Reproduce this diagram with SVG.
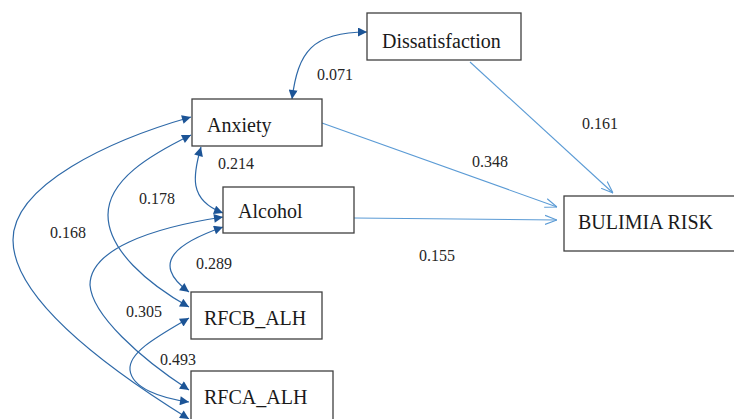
<svg xmlns="http://www.w3.org/2000/svg" width="734" height="419" viewBox="0 0 734 419">
<style>
.box{fill:#ffffff;stroke:#404040;stroke-width:1.3}
.nt{font-family:'Liberation Serif','DejaVu Serif','Noto Serif',serif;font-size:20px;fill:#1a1a1a}
.lb{font-family:'Liberation Serif','DejaVu Serif','Noto Serif',serif;font-size:16px;fill:#262626}
.cv{fill:none;stroke:#2e69a8;stroke-width:1.2;marker-start:url(#ah);marker-end:url(#ah)}
.st{fill:none;stroke:#5b9bd5;stroke-width:1.1;marker-end:url(#oh)}
</style>
<defs>
<marker id="ah" viewBox="0 0 10 10" refX="10" refY="5" markerWidth="11" markerHeight="9" markerUnits="userSpaceOnUse" orient="auto-start-reverse">
<path d="M0,0 L10,5 L0,10 z" fill="#1c5496"/>
</marker>
<marker id="oh" viewBox="0 0 12 12" refX="12" refY="6" markerWidth="12" markerHeight="12" markerUnits="userSpaceOnUse" orient="auto">
<path d="M0,1.5 L12,6 L0,10.5" fill="none" stroke="#5b9bd5" stroke-width="1.1"/>
</marker>
</defs>
<rect width="734" height="419" fill="#ffffff"/>
<g id="connectors">
<path class="st" d="M470,62 L613,193"/>
<path class="st" d="M322,123 L557,207"/>
<path class="st" d="M354,218 L557,220"/>
<path class="cv" d="M292,99 C298,52 312,32 367,32"/>
<path class="cv" d="M201,147 C193,175 188,200 223,213"/>
<path class="cv" d="M191,135 C150,155 108,180 108,215 C108,250 148,284 189,307"/>
<path class="cv" d="M191,117 C110,140 13,185 13,240 C13,300 110,370 189,419"/>
<path class="cv" d="M223,227 C180,242 148,262 189,292"/>
<path class="cv" d="M223,217 C150,228 90,250 90,285 C92,315 140,358 189,390"/>
<path class="cv" d="M189,318 C160,335 128,352 130,370 C132,388 160,398 189,402"/>
</g>
<g id="labels">
<text class="lb" x="317" y="80">0.071</text>
<text class="lb" x="218" y="169">0.214</text>
<text class="lb" x="139" y="204">0.178</text>
<text class="lb" x="50" y="238">0.168</text>
<text class="lb" x="196" y="269">0.289</text>
<text class="lb" x="126" y="317">0.305</text>
<text class="lb" x="160" y="365">0.493</text>
<text class="lb" x="582" y="129">0.161</text>
<text class="lb" x="472" y="167">0.348</text>
<text class="lb" x="419" y="261">0.155</text>
</g>
<g id="dissatisfaction">
<rect class="box" x="367" y="13" width="154" height="47"/>
<text class="nt" x="382" y="48">Dissatisfaction</text>
</g>
<g id="anxiety">
<rect class="box" x="192" y="99" width="130" height="47"/>
<text class="nt" x="207" y="132">Anxiety</text>
</g>
<g id="alcohol">
<rect class="box" x="223" y="187" width="131" height="46"/>
<text class="nt" x="238" y="218">Alcohol</text>
</g>
<g id="rfcb_alh">
<rect class="box" x="191" y="292" width="131" height="47"/>
<text class="nt" x="204" y="325">RFCB_ALH</text>
</g>
<g id="rfca_alh">
<rect class="box" x="191" y="371" width="142" height="60"/>
<text class="nt" x="204" y="404">RFCA_ALH</text>
</g>
<g id="bulimia_risk">
<rect class="box" x="564" y="196" width="180" height="55"/>
<text class="nt" x="578" y="229">BULIMIA RISK</text>
</g>
</svg>
